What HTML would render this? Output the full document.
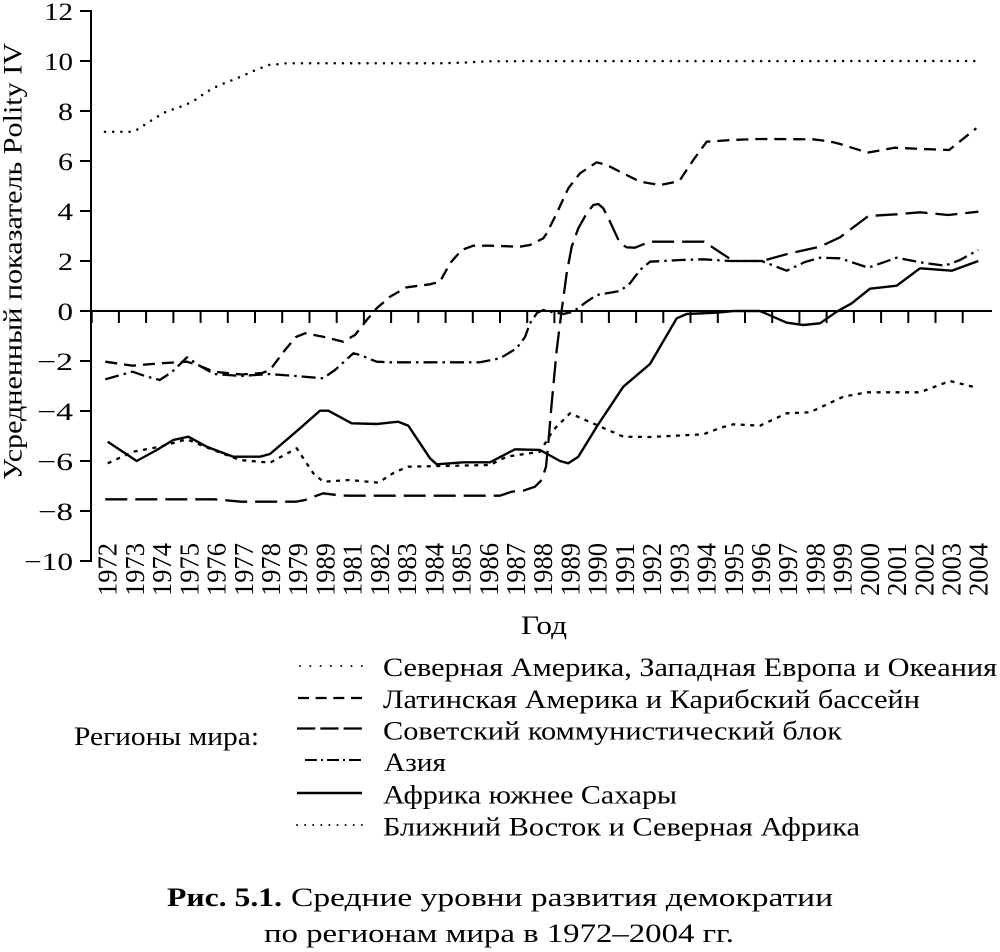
<!DOCTYPE html>
<html>
<head>
<meta charset="utf-8">
<style>
  html,body{margin:0;padding:0;background:#fff;}
  svg{display:block;}
  text{font-family:"Liberation Serif","Noto Serif CJK SC",serif;fill:#000;}
</style>
</head>
<body>
<svg width="1000" height="952" viewBox="0 0 1000 952" xmlns="http://www.w3.org/2000/svg">
  <!-- Axes -->
  <g stroke="#000" stroke-width="2" fill="none">
    <line x1="91" y1="10" x2="91" y2="562"/>
    <line x1="90" y1="311" x2="992" y2="311"/>
    <line x1="80" y1="11" x2="91" y2="11"/>
    <line x1="80" y1="61" x2="91" y2="61"/>
    <line x1="80" y1="111" x2="91" y2="111"/>
    <line x1="80" y1="161" x2="91" y2="161"/>
    <line x1="80" y1="211" x2="91" y2="211"/>
    <line x1="80" y1="261" x2="91" y2="261"/>
    <line x1="80" y1="311" x2="91" y2="311"/>
    <line x1="80" y1="361" x2="91" y2="361"/>
    <line x1="80" y1="411" x2="91" y2="411"/>
    <line x1="80" y1="461" x2="91" y2="461"/>
    <line x1="80" y1="511" x2="91" y2="511"/>
    <line x1="80" y1="561" x2="91" y2="561"/>
    <path d="M91.7 311V323 M118.9 311V323 M146.1 311V323 M173.4 311V323 M200.6 311V323 M227.8 311V323 M255 311V323 M282.2 311V323 M309.5 311V323 M336.7 311V323 M363.9 311V323 M391.1 311V323 M418.3 311V323 M445.6 311V323 M472.8 311V323 M500 311V323 M527.2 311V323 M554.4 311V323 M581.7 311V323 M608.9 311V323 M636.1 311V323 M663.3 311V323 M690.5 311V323 M717.8 311V323 M745 311V323 M772.2 311V323 M799.4 311V323 M826.6 311V323 M853.9 311V323 M881.1 311V323 M908.3 311V323 M935.5 311V323 M962.7 311V323"/>
  </g>

  <!-- Y tick labels -->
  <g font-size="25" text-anchor="end">
    <text x="73" y="20" textLength="29" lengthAdjust="spacingAndGlyphs">12</text>
    <text x="73" y="70" textLength="29" lengthAdjust="spacingAndGlyphs">10</text>
    <text x="73" y="120" textLength="15" lengthAdjust="spacingAndGlyphs">8</text>
    <text x="73" y="170" textLength="15" lengthAdjust="spacingAndGlyphs">6</text>
    <text x="73" y="220" textLength="15.5" lengthAdjust="spacingAndGlyphs">4</text>
    <text x="73" y="270" textLength="15" lengthAdjust="spacingAndGlyphs">2</text>
    <text x="73" y="320" textLength="15.5" lengthAdjust="spacingAndGlyphs">0</text>
    <text x="73" y="370" textLength="36" lengthAdjust="spacingAndGlyphs">−2</text>
    <text x="73" y="420" textLength="36" lengthAdjust="spacingAndGlyphs">−4</text>
    <text x="73" y="470" textLength="36" lengthAdjust="spacingAndGlyphs">−6</text>
    <text x="73" y="520" textLength="35" lengthAdjust="spacingAndGlyphs">−8</text>
    <text x="73" y="570" textLength="49" lengthAdjust="spacingAndGlyphs">−10</text>
  </g>

  <!-- Y axis title -->
  <text font-size="26" transform="translate(21.5,480) rotate(-90)" textLength="437" lengthAdjust="spacingAndGlyphs">Усредненный показатель Polity IV</text>

  <!-- X labels -->
  <g font-size="27">
    <text transform="translate(116.7,596) rotate(-90)" textLength="53" lengthAdjust="spacingAndGlyphs">1972</text>
    <text transform="translate(143.9,596) rotate(-90)" textLength="53" lengthAdjust="spacingAndGlyphs">1973</text>
    <text transform="translate(171.1,596) rotate(-90)" textLength="53" lengthAdjust="spacingAndGlyphs">1974</text>
    <text transform="translate(198.4,596) rotate(-90)" textLength="53" lengthAdjust="spacingAndGlyphs">1975</text>
    <text transform="translate(225.6,596) rotate(-90)" textLength="53" lengthAdjust="spacingAndGlyphs">1976</text>
    <text transform="translate(252.8,596) rotate(-90)" textLength="53" lengthAdjust="spacingAndGlyphs">1977</text>
    <text transform="translate(280,596) rotate(-90)" textLength="53" lengthAdjust="spacingAndGlyphs">1978</text>
    <text transform="translate(307.2,596) rotate(-90)" textLength="53" lengthAdjust="spacingAndGlyphs">1979</text>
    <text transform="translate(334.5,596) rotate(-90)" textLength="53" lengthAdjust="spacingAndGlyphs">1989</text>
    <text transform="translate(361.7,596) rotate(-90)" textLength="53" lengthAdjust="spacingAndGlyphs">1981</text>
    <text transform="translate(388.9,596) rotate(-90)" textLength="53" lengthAdjust="spacingAndGlyphs">1982</text>
    <text transform="translate(416.1,596) rotate(-90)" textLength="53" lengthAdjust="spacingAndGlyphs">1983</text>
    <text transform="translate(443.3,596) rotate(-90)" textLength="53" lengthAdjust="spacingAndGlyphs">1984</text>
    <text transform="translate(470.6,596) rotate(-90)" textLength="53" lengthAdjust="spacingAndGlyphs">1985</text>
    <text transform="translate(497.8,596) rotate(-90)" textLength="53" lengthAdjust="spacingAndGlyphs">1986</text>
    <text transform="translate(525,596) rotate(-90)" textLength="53" lengthAdjust="spacingAndGlyphs">1987</text>
    <text transform="translate(552.2,596) rotate(-90)" textLength="53" lengthAdjust="spacingAndGlyphs">1988</text>
    <text transform="translate(579.4,596) rotate(-90)" textLength="53" lengthAdjust="spacingAndGlyphs">1989</text>
    <text transform="translate(606.7,596) rotate(-90)" textLength="53" lengthAdjust="spacingAndGlyphs">1990</text>
    <text transform="translate(633.9,596) rotate(-90)" textLength="53" lengthAdjust="spacingAndGlyphs">1991</text>
    <text transform="translate(661.1,596) rotate(-90)" textLength="53" lengthAdjust="spacingAndGlyphs">1992</text>
    <text transform="translate(688.3,596) rotate(-90)" textLength="53" lengthAdjust="spacingAndGlyphs">1993</text>
    <text transform="translate(715.5,596) rotate(-90)" textLength="53" lengthAdjust="spacingAndGlyphs">1994</text>
    <text transform="translate(742.8,596) rotate(-90)" textLength="53" lengthAdjust="spacingAndGlyphs">1995</text>
    <text transform="translate(770,596) rotate(-90)" textLength="53" lengthAdjust="spacingAndGlyphs">1996</text>
    <text transform="translate(797.2,596) rotate(-90)" textLength="53" lengthAdjust="spacingAndGlyphs">1997</text>
    <text transform="translate(824.4,596) rotate(-90)" textLength="53" lengthAdjust="spacingAndGlyphs">1998</text>
    <text transform="translate(851.6,596) rotate(-90)" textLength="53" lengthAdjust="spacingAndGlyphs">1999</text>
    <text transform="translate(878.9,596) rotate(-90)" textLength="53" lengthAdjust="spacingAndGlyphs">2000</text>
    <text transform="translate(906.1,596) rotate(-90)" textLength="53" lengthAdjust="spacingAndGlyphs">2001</text>
    <text transform="translate(933.3,596) rotate(-90)" textLength="53" lengthAdjust="spacingAndGlyphs">2002</text>
    <text transform="translate(960.5,596) rotate(-90)" textLength="53" lengthAdjust="spacingAndGlyphs">2003</text>
    <text transform="translate(987.7,596) rotate(-90)" textLength="53" lengthAdjust="spacingAndGlyphs">2004</text>
  </g>

  <text x="521" y="634" font-size="26" textLength="46" lengthAdjust="spacingAndGlyphs">Год</text>

  <!-- Series -->
  <g fill="none" stroke="#000" stroke-linejoin="round">
    <polyline stroke-width="2.5" stroke-linecap="round" stroke-dasharray="0 8.2"
      points="105,131.7 132.7,131.7 140,128.3 146.7,123.3 155,118.3 162.7,113.3 170.7,110 179,107.3 186.7,104.3 195,100 202.3,95 210,90 218.3,85.7 226.7,82.3 235,79 243.3,75.7 251.7,71.7 260,68.3 268.3,65 276.7,64.3 286.7,63.3 440,63.3 465,62.5 490,61.2 978,61"/>

    <polyline stroke-width="2.3" stroke-dasharray="12 7"
      points="105.3,361.7 132.5,365.7 159.7,363.3 187,361.7 200,366 214.2,371.7 241.4,374.5 262,373 270,370 285,350 296,337 305,333.3 323.1,336.7 343.3,341.7 355,335 366.7,320 376.7,308.3 390,296.7 406.7,287.3 430,284.3 440,281.7 450,263.3 461.7,250 473.3,245.7 490,245.7 520,246.7 530,245 543.3,238.3 546.7,233.3 556.7,213.3 568.3,188.3 580,173.3 596.7,162.3 606.7,165 620,171.7 640,181.7 660,185 676.7,181.7 680,180 693.3,160 706.7,141.7 731.4,140 758.6,139 813,139.3 830,141.5 840.2,144 867.5,152.7 894.7,147.7 921.9,149 949.1,150 976.3,128.3"/>

    <polyline stroke-width="2.3" stroke-dasharray="22 8"
      points="105.3,499.3 214.2,499.3 241.4,501.7 295.8,501.7 305,500 323.1,493.3 340,495.5 350,495.7 500,495.7 511.7,491.7 523.3,490.7 535,486.7 541.7,480 546,466.7 548.3,443.3 551.7,403.3 556.7,350 561.7,310 566.7,273.3 571.7,246.7 578.3,228.3 586.7,213.3 593.3,205 598.3,204 603.3,208.3 610,221.7 620,243.3 626.7,247.3 635,247.7 650,241.7 704,241.7 728.3,257.7 735,261 761.7,261 790,253.3 820,246.7 840,237.3 868.3,216 896.7,214.3 920,212.3 948.3,215 978.3,211.7"/>

    <polyline stroke-width="2.3" stroke-dasharray="14 5 2.5 5"
      points="105.3,379.3 132.5,371.7 145,376 159.7,380 172,372 187,357.3 200,366 214.2,374 241.4,376 268.6,374 295.8,376 323.1,378.3 335,370 353.3,353.3 360,355 376.7,361.7 390,362.3 480,362.3 500,358.3 516.7,348.3 525,337 530,323.3 537,313 543.3,310 553.3,312.3 563.3,314 573.3,311.7 586.7,301.7 596.7,295 620,291 630,283.3 640,270 650,261.7 680,260 703,259.3 730,261 761.7,261 786.7,270.7 805,262 820,257.7 840,258.3 868.3,267.7 896.7,257.7 920,262.3 945,265.7 960,260 978.3,250"/>

    <polyline stroke-width="2.4"
      points="107.7,441.7 136.7,461 156.7,450 173.3,440 188.3,436.7 206.7,446.7 233.3,456.7 260,456.7 270,454 300,428.3 320,410.7 328.3,410.7 351.7,423.3 376.7,424 398.3,421.7 408.3,425.7 430,458.3 436.7,464.3 463.3,462.3 490,462.3 515,449.3 540,450 560,461 568.3,463.3 578.3,456.7 596.7,426.7 623.3,386.7 650,364 676.7,318.3 686.7,314 716.7,312.7 733.3,311 760,311 786.7,322.7 803.3,325 820,323.3 836.7,311.7 851.7,303.3 870,288.7 896.7,285.7 920,268.3 951.7,270.7 978.3,261"/>

    <polyline stroke-width="2.3" stroke-dasharray="4 5.5"
      points="107.7,463.3 133.3,451.7 160,446.7 186.7,439.3 213.3,450 240,460 270,462.7 296.7,448.3 313.3,473.3 323.3,481.7 350,480 378.3,482.7 395,472 408.3,466.7 490,465 506.7,456.7 540,451.7 553.3,430 570,413.3 596.7,425 623.3,436.7 650,437 703.3,434.3 720,428 733.3,424.3 760,425.7 786.7,413.3 810,412.3 843.3,396.7 866.7,392.3 920,392.3 950,381 975,387.3"/>
  </g>

  <!-- Legend -->
  <g fill="none" stroke="#000">
    <line x1="300" y1="666" x2="362" y2="666" stroke-width="2" stroke-linecap="round" stroke-dasharray="0 10.3"/>
    <line x1="298" y1="698" x2="362" y2="698" stroke-width="2.2" stroke-dasharray="11 6.67"/>
    <line x1="297" y1="728.5" x2="362" y2="728.5" stroke-width="2.2" stroke-dasharray="18.3 5"/>
    <line x1="305" y1="760" x2="361" y2="760" stroke-width="2" stroke-dasharray="12 4 2 4"/>
    <line x1="297" y1="793" x2="362" y2="793" stroke-width="2.5"/>
    <line x1="297" y1="825" x2="362" y2="825" stroke-width="2" stroke-linecap="round" stroke-dasharray="0 8.1"/>
  </g>
  <g font-size="26">
    <text x="383" y="676" textLength="614" lengthAdjust="spacingAndGlyphs">Северная Америка, Западная Европа и Океания</text>
    <text x="383" y="708" textLength="537" lengthAdjust="spacingAndGlyphs">Латинская Америка и Карибский бассейн</text>
    <text x="383" y="739.5" textLength="459" lengthAdjust="spacingAndGlyphs">Советский коммунистический блок</text>
    <text x="384" y="771" textLength="62" lengthAdjust="spacingAndGlyphs">Азия</text>
    <text x="383" y="803.5" textLength="294" lengthAdjust="spacingAndGlyphs">Африка южнее Сахары</text>
    <text x="383" y="835.5" textLength="477" lengthAdjust="spacingAndGlyphs">Ближний Восток и Северная Африка</text>
    <text x="74" y="745" textLength="185" lengthAdjust="spacingAndGlyphs">Регионы мира:</text>
  </g>

  <!-- Caption -->
  <g font-size="26">
    <text x="167" y="906" font-weight="bold" textLength="115" lengthAdjust="spacingAndGlyphs">Рис. 5.1.</text>
    <text x="291" y="906" textLength="542" lengthAdjust="spacingAndGlyphs">Средние уровни развития демократии</text>
    <text x="264" y="942" textLength="470" lengthAdjust="spacingAndGlyphs">по регионам мира в 1972–2004 гг.</text>
  </g>
</svg>
</body>
</html>
